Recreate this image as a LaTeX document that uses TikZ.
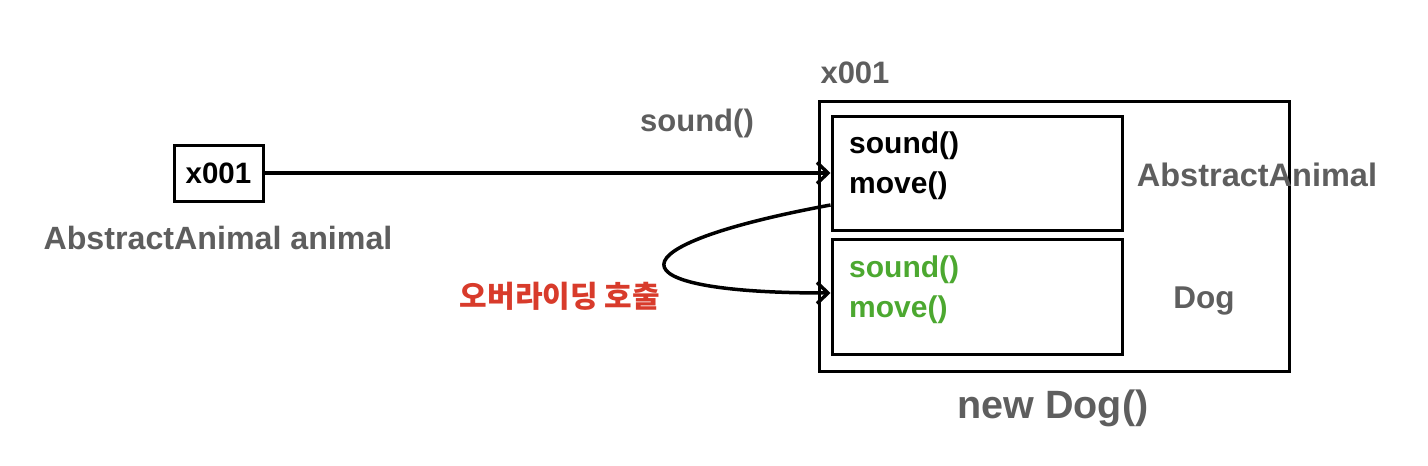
\documentclass[tikz,border=0pt]{standalone}
\usepackage{fontspec}
\setmainfont{Liberation Sans}
\newfontfamily\kofont{Noto Sans CJK KR}
\usetikzlibrary{arrows.meta}
\definecolor{txtgray}{HTML}{5E5E5E}
\definecolor{okgreen}{HTML}{4CA830}
\definecolor{callred}{HTML}{D83B2B}
\tikzset{
  box/.style={draw=black, line width=3pt, inner sep=0pt},
  lbl/.style={font=\fontsize{31}{36}\selectfont\bfseries, text=txtgray, inner sep=0pt},
  mth/.style={font=\fontsize{30}{40}\selectfont\bfseries, inner sep=0pt, align=left, anchor=north west},
  conn/.style={line width=3.5pt, -{Straight Barb[length=11pt,width=21pt,line width=3.5pt]}},
}
\begin{document}
\begin{tikzpicture}[x=1pt,y=-1pt]
\useasboundingbox (0,0) rectangle (1428,466);
% left reference variable
\node[box, minimum width=89pt, minimum height=56pt, font=\fontsize{29.5}{34}\selectfont\bfseries] (ref) at (218.5,173) {x001};
\node[lbl, font=\fontsize{32.2}{36}\selectfont\bfseries] (refname) at (218,238) {AbstractAnimal animal};
% instance
\node[box, minimum width=470pt, minimum height=270pt] (outer) at (1054,236) {};
\node[box, minimum width=290pt, minimum height=114pt] (abs) at (977,173) {};
\node[box, minimum width=290pt, minimum height=115pt] (dog) at (977,296.5) {};
\node[mth, text=black] (absm) at (849,132) {sound()\\move()};
\node[mth, text=okgreen] (dogm) at (849,256) {sound()\\move()};
\node[lbl] (addr) at (855,73) {x001};
\node[lbl, font=\fontsize{32.5}{36}\selectfont\bfseries] (absname) at (1257,175) {AbstractAnimal};
\node[lbl, font=\fontsize{31.5}{36}\selectfont\bfseries] (dogname) at (1204,301) {Dog};
\node[lbl, font=\fontsize{39.5}{44}\selectfont\bfseries] (newdog) at (1053,408) {new Dog()};
% call
\node[lbl] (call) at (697,123) {sound()};
\draw[conn] (ref.east) -- (abs.west |- ref.east);
\coordinate (cstart) at (abs.west |- 0,205);
\coordinate (cend) at (dog.west |- 0,293);
\draw[conn] (cstart) .. controls (609,246) and (609,293) .. (cend);
\node[font=\kofont\fontsize{30}{34}\selectfont\bfseries, text=callred, inner sep=0pt] (override) at (560,296) {오버라이딩 호출};
\end{tikzpicture}
\end{document}
